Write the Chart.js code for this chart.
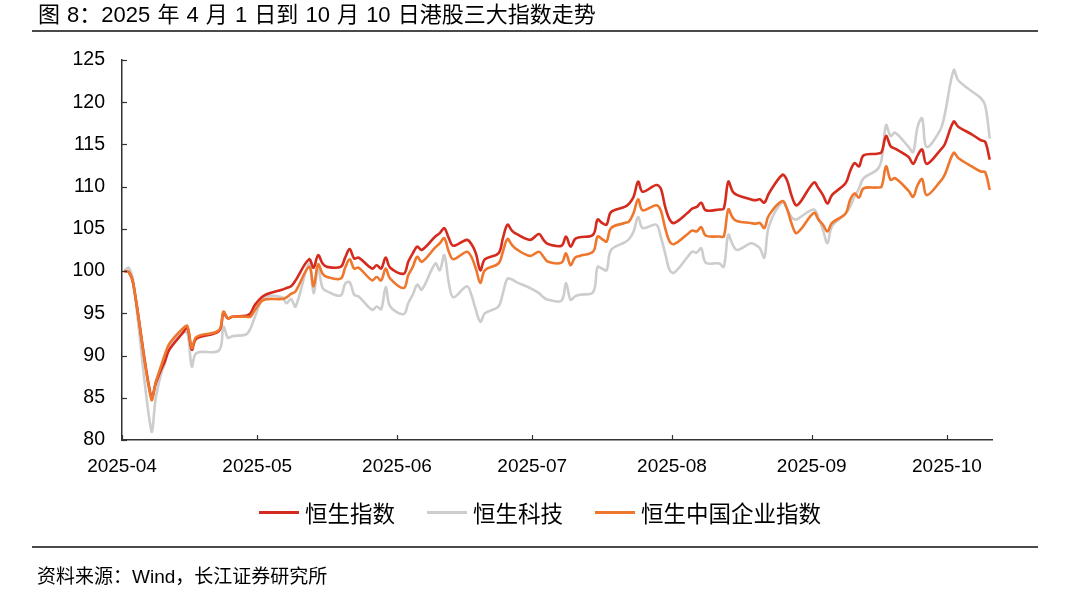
<!DOCTYPE html>
<html>
<head>
<meta charset="utf-8">
<script src="https://cdn.jsdelivr.net/npm/chart.js@4.4.0/dist/chart.umd.min.js"></script>
<style>
  body { margin: 0; background: #fff; }
  #wrap { position: relative; width: 1080px; height: 595px; overflow: hidden; font-family: "Liberation Sans", "Noto Sans CJK SC", sans-serif; color: #000; }
  #chart { position: absolute; left: 0; top: 0; }
  #title { position: absolute; left: 38px; top: 1px; font-size: 22px; line-height: 28px; white-space: nowrap; word-spacing: 1px; }
  .rule { position: absolute; left: 32px; width: 1006px; height: 2px; background: #4a4a4a; }
  #legend { position: absolute; left: 0; width: 1080px; top: 497px; height: 30px; display: flex; justify-content: center; align-items: center; font-size: 22.5px; }
  #legend .item { display: flex; align-items: center; margin: 0 16px; }
  #legend .swatch { width: 40px; height: 3px; margin-right: 6px; }
  #source { position: absolute; left: 37px; top: 565px; font-size: 19px; line-height: 24px; white-space: nowrap; }
</style>
</head>
<body>
<div id="wrap">
  <canvas id="chart" width="1080" height="595"></canvas>
  <div id="title">图 8：2025 年 4 月 1 日到 10 月 10 日港股三大指数走势</div>
  <div class="rule" style="top:30px"></div>
  <div id="legend"></div>
  <div class="rule" style="top:546px"></div>
  <div id="source">资料来源：Wind，长江证券研究所</div>
</div>
<script>
// 交易日（2025 年）
const dates = [
  '04-01','04-02','04-03','04-07','04-08','04-09','04-10','04-11','04-14','04-15',
  '04-16','04-17','04-22','04-23','04-24','04-25','04-28','04-29','04-30','05-02',
  '05-06','05-07','05-08','05-09','05-12','05-13','05-14','05-15','05-16','05-19',
  '05-20','05-21','05-22','05-23','05-26','05-27','05-28','05-29','05-30','06-02',
  '06-03','06-04','06-05','06-06','06-09','06-10','06-11','06-12','06-13','06-16',
  '06-17','06-18','06-19','06-20','06-23','06-24','06-25','06-26','06-27','06-30',
  '07-02','07-03','07-04','07-07','07-08','07-09','07-10','07-11','07-14','07-15',
  '07-16','07-17','07-18','07-21','07-22','07-23','07-24','07-25','07-28','07-29',
  '07-30','07-31','08-01','08-04','08-05','08-06','08-07','08-08','08-11','08-12',
  '08-13','08-14','08-15','08-18','08-19','08-20','08-21','08-22','08-25','08-26',
  '08-27','08-28','08-29','09-01','09-02','09-03','09-04','09-05','09-08','09-09',
  '09-10','09-11','09-12','09-15','09-16','09-17','09-18','09-19','09-22','09-23',
  '09-24','09-25','09-26','09-29','09-30','10-02','10-03','10-06','10-08','10-09',
  '10-10'
];

// 恒生指数
const hsi = [
  100.0, 99.9, 98.5, 85.0, 86.7, 88.1, 89.3, 90.7, 92.7, 93.3,
  90.7, 92.0, 92.9, 95.0, 94.4, 94.6, 94.7, 95.0, 96.0, 97.1,
  97.8, 98.0, 98.2, 98.9, 101.4, 100.4, 101.9, 100.9, 100.5, 100.5,
  101.6, 102.6, 101.5, 101.6, 100.3, 100.7, 100.3, 101.6, 100.4, 99.7,
  101.1, 102.1, 102.9, 102.5, 104.1, 104.5, 105.1, 103.9, 103.0, 103.7,
  103.2, 102.1, 100.1, 101.4, 102.1, 103.9, 105.5, 104.8, 104.4, 103.7,
  104.4, 103.7, 103.2, 103.0, 104.1, 102.9, 103.8, 104.0, 104.3, 106.1,
  105.7, 105.5, 107.0, 107.6, 108.0, 108.8, 110.6, 109.4, 110.2, 109.8,
  107.6, 106.1, 105.7, 106.9, 107.4, 107.6, 108.1, 107.2, 107.3, 107.4,
  110.6, 109.4, 109.0, 108.5, 108.4, 108.5, 108.1, 109.2, 111.4, 110.8,
  109.0, 107.8, 108.2, 110.5, 109.8, 109.0, 108.0, 109.0, 110.4, 111.8,
  112.8, 112.4, 113.7, 113.9, 114.1, 116.0, 114.8, 114.5, 113.5, 112.7,
  113.7, 114.4, 112.7, 114.3, 115.0, 117.7, 117.1, 116.2, 115.5, 115.3,
  113.2
];

// 恒生科技
const hstech = [
  100.0, 100.4, 98.7, 81.1, 85.0, 87.5, 89.1, 90.9, 92.7, 92.7,
  88.7, 90.3, 90.6, 93.4, 92.1, 92.3, 92.5, 93.2, 94.6, 96.9,
  96.9, 96.2, 96.7, 95.8, 100.9, 97.4, 100.3, 98.0, 97.6, 97.1,
  98.5, 98.7, 97.2, 97.0, 95.4, 95.8, 95.5, 98.1, 95.8, 94.9,
  96.2, 97.2, 98.4, 97.8, 100.9, 100.1, 101.9, 98.6, 96.9, 98.2,
  97.2, 95.4, 94.0, 95.0, 95.8, 97.4, 99.1, 99.0, 98.7, 98.0,
  97.4, 96.9, 96.6, 96.5, 98.6, 96.6, 97.0, 97.2, 97.5, 100.5,
  100.3, 100.1, 102.5, 103.4, 103.8, 104.7, 106.4, 105.1, 105.5, 104.1,
  102.1, 100.1, 99.8, 101.7, 102.3, 102.2, 102.7, 101.0, 100.9, 100.5,
  104.3, 103.1, 102.5, 103.3, 103.1, 102.7, 101.6, 105.3, 108.2, 107.4,
  106.4, 106.1, 106.4, 107.3, 106.3, 104.9, 103.3, 105.3, 106.8, 107.6,
  108.8, 109.8, 111.0, 112.0, 113.2, 117.3, 116.0, 116.4, 114.7, 114.1,
  117.1, 118.1, 114.7, 116.7, 118.5, 123.8, 122.6, 121.3, 120.5, 119.6,
  115.7
];

// 恒生中国企业指数
const hscei = [
  100.0, 99.9, 98.5, 84.8, 86.9, 88.5, 90.1, 91.4, 93.2, 93.5,
  90.9, 92.2, 93.0, 95.2, 94.4, 94.6, 94.6, 94.6, 95.4, 96.6,
  96.7, 96.9, 97.3, 97.6, 100.5, 98.2, 100.8, 99.7, 99.3, 99.1,
  100.4, 101.4, 100.3, 100.4, 98.9, 99.3, 98.9, 100.3, 99.1, 98.0,
  99.5, 100.5, 101.7, 101.1, 102.8, 103.3, 103.9, 102.3, 101.4, 102.3,
  101.7, 100.3, 98.6, 100.1, 100.9, 102.3, 103.8, 103.1, 102.6, 101.8,
  102.3, 101.7, 101.1, 101.0, 102.1, 100.7, 101.6, 101.8, 102.3, 104.1,
  103.8, 103.5, 105.1, 105.7, 105.9, 106.9, 108.5, 107.2, 107.8, 107.2,
  105.1, 103.5, 103.2, 104.4, 104.8, 104.7, 105.2, 104.2, 104.1, 104.1,
  107.3, 106.3, 105.9, 105.7, 105.6, 105.7, 105.1, 106.6, 108.3, 107.4,
  105.7, 104.5, 104.9, 106.9, 106.1, 105.5, 104.7, 105.7, 106.8, 108.4,
  109.2, 108.7, 109.8, 109.9, 110.0, 112.4, 110.8, 111.0, 109.5, 108.8,
  110.2, 110.9, 109.0, 110.6, 111.4, 114.0, 113.4, 112.4, 111.8, 111.7,
  109.6
];

// 横轴月份刻度
const tickMonths = ['04-01', '05-01', '06-01', '07-01', '08-01', '09-01', '10-01'];
const tickLabels = ['2025-04', '2025-05', '2025-06', '2025-07', '2025-08', '2025-09', '2025-10'];
const yTicks = [80, 85, 90, 95, 100, 105, 110, 115, 120, 125];

const seriesNames = ['恒生指数', '恒生科技', '恒生中国企业指数'];
const seriesColors = ['#d52b1e', '#cdcdcd', '#ef762d'];

// 以 4 月 1 日为起点的天数
function dayOffset(md) {
  const [m, d] = md.split('-').map(Number);
  return (Date.UTC(2025, m - 1, d) - Date.UTC(2025, 3, 1)) / 86400000;
}
const tickValues = tickMonths.map(dayOffset);
const toPoints = vals => vals.map((v, i) => ({ x: dayOffset(dates[i]) + 0.5, y: v }));

// 坐标轴内侧的小刻度
const innerTicks = {
  id: 'innerTicks',
  afterDraw(chart) {
    const ctx = chart.ctx;
    const xs = chart.scales.x, ys = chart.scales.y;
    ctx.save();
    ctx.strokeStyle = '#333';
    ctx.lineWidth = 1.2;
    ys.ticks.forEach(t => {
      const py = Math.round(ys.getPixelForValue(t.value)) + 0.5;
      ctx.beginPath(); ctx.moveTo(xs.left, py); ctx.lineTo(xs.left + 5, py); ctx.stroke();
    });
    xs.ticks.forEach(t => {
      const px = Math.round(xs.getPixelForValue(t.value)) + 0.5;
      ctx.beginPath(); ctx.moveTo(px, ys.bottom); ctx.lineTo(px, ys.bottom - 5); ctx.stroke();
    });
    ctx.restore();
  }
};

const datasets = [hsi, hstech, hscei].map((vals, i) => ({
  label: seriesNames[i],
  data: toPoints(vals),
  borderColor: seriesColors[i],
  borderWidth: 2.6,
  pointRadius: 0,
  tension: 0.35,
  fill: false,
  order: [1, 2, 0][i]
}));

new Chart(document.getElementById('chart'), {
  type: 'line',
  data: { datasets: datasets },
  options: {
    responsive: false,
    animation: false,
    devicePixelRatio: 1,
    layout: { padding: { top: 60, left: 0, right: 88, bottom: 115 } },
    plugins: { legend: { display: false }, tooltip: { enabled: false } },
    scales: {
      x: {
        type: 'linear',
        min: 0,
        max: 193,
        afterBuildTicks: s => { s.ticks = tickValues.map(v => ({ value: v })); },
        afterFit: s => { s.height = 40; },
        grid: { display: false, drawTicks: false },
        border: { display: true, color: '#333', width: 1.5 },
        ticks: {
          padding: 15,
          maxRotation: 0,
          autoSkip: false,
          color: '#000',
          font: { family: '"Liberation Sans", Arial, sans-serif', size: 19 },
          callback: v => tickLabels[tickValues.indexOf(v)]
        }
      },
      y: {
        min: 80,
        max: 125,
        afterBuildTicks: s => { s.ticks = yTicks.map(v => ({ value: v })); },
        afterFit: s => { s.width = 122; },
        grid: { display: false, drawTicks: false },
        border: { display: true, color: '#333', width: 1.5 },
        ticks: {
          padding: 17,
          color: '#000',
          font: { family: '"Liberation Sans", Arial, sans-serif', size: 19.5 }
        }
      }
    }
  },
  plugins: [innerTicks]
});

// 图例
const legend = document.getElementById('legend');
seriesNames.forEach((name, i) => {
  const item = document.createElement('div');
  item.className = 'item';
  item.innerHTML = '<span class="swatch" style="background:' + seriesColors[i] + '"></span><span>' + name + '</span>';
  legend.appendChild(item);
});
</script>
</body>
</html>
